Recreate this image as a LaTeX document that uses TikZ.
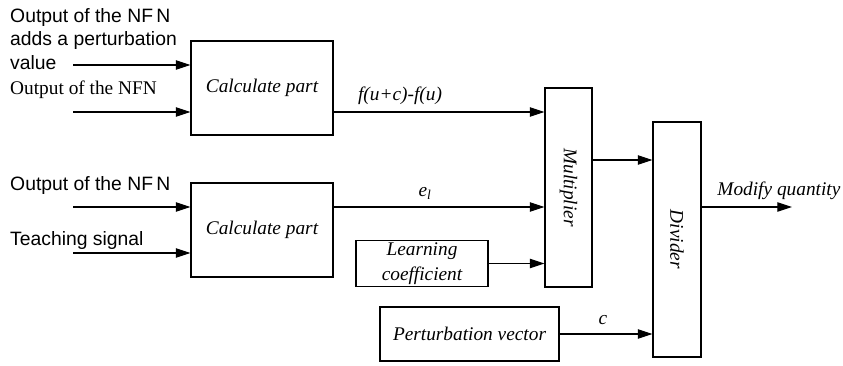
\documentclass[tikz,border=0pt]{standalone}
\usepackage{fontspec}
\setmainfont{Liberation Serif}
\newfontfamily\labelsans{Liberation Sans}
\usetikzlibrary{arrows.meta,positioning}

\begin{document}
\begin{tikzpicture}[x=0.03cm,y=-0.03cm,
  blk/.style={draw,line width=0.9pt,inner sep=2pt,align=center,font=\fontsize{16.5}{21}\selectfont\itshape},
  txt/.style={inner sep=0pt,anchor=west,align=left},
  sig/.style={inner sep=1pt,font=\fontsize{16.5}{19}\selectfont\itshape},
  >={Triangle[length=12.5pt,width=8pt]}]

  \useasboundingbox (0,0) rectangle (843,365);

  % processing blocks
  \node[blk,minimum width=4.26cm,minimum height=2.82cm] (calcA) at (262,88) {Calculate part};
  \node[blk,minimum width=4.26cm,minimum height=2.82cm] (calcB) at (262,230) {Calculate part};
  \node[blk,minimum width=3.96cm,minimum height=1.29cm] (learn) at (422,263.5) {Learning\\coefficient};
  \node[blk,minimum width=5.37cm,minimum height=1.62cm] (pert) at (469.5,334) {Perturbation vector};
  \node[blk,minimum width=1.41cm,minimum height=5.97cm] (mult) at (568.5,187.5) {};
  \node[blk,minimum width=1.44cm,minimum height=7.05cm] (divd) at (677,239.5) {};
  \node[sig,rotate=-90] at (mult) {Multiplier};
  \node[sig,rotate=-90] at (divd) {Divider};

  % input texts
  \node[txt,font=\labelsans\fontsize{16.5}{20.4}\selectfont] (lblA1) at (10,39) {Output of the NF\,N\\adds a perturbation\\value};
  \node[txt,font=\fontsize{16.5}{19}\selectfont] (lblA2) at (10,90) {Output of the NFN};
  \node[txt,font=\labelsans\fontsize{16.5}{19}\selectfont] (lblB1) at (10,185) {Output of the NF\,N};
  \node[txt,font=\labelsans\fontsize{16.5}{19}\selectfont] (lblB2) at (10,240) {Teaching signal};

  \coordinate (inA1) at (73,65);
  \coordinate (inA2) at (73,112);
  \coordinate (inB1) at (73,207);
  \coordinate (inB2) at (73,253);
  \coordinate (mo) at (592,160);
  \coordinate (out) at (792,207);

  \draw[->,line width=0.9pt] (inA1) -- (inA1 -| calcA.west);
  \draw[->,line width=0.9pt] (inA2) -- (inA2 -| calcA.west);
  \draw[->,line width=0.9pt] (inB1) -- (inB1 -| calcB.west);
  \draw[->,line width=0.9pt] (inB2) -- (inB2 -| calcB.west);

  % into the multiplier
  \draw[->,line width=0.9pt] (calcA.east |- inA2) -- (inA2 -| mult.west);
  \node[sig] (dfu) at (400,96) {f(u+c)-f(u)};
  \draw[->,line width=0.9pt] (calcB.east |- inB1) -- (inB1 -| mult.west);
  \node[sig] (el) at (425,193) {e\textsubscript{l}};
  \draw[->,line width=0.9pt] (learn.east) -- (learn.east -| mult.west);

  % divider and result
  \draw[->,line width=0.9pt] (mult.east |- mo) -- (mo -| divd.west);
  \draw[->,line width=0.9pt] (pert.east) -- (pert.east -| divd.west);
  \node[sig] (cl) at (603,320) {c};
  \draw[->,line width=0.9pt] (divd.east |- out) -- (out);
  \node[sig,anchor=south west] (mq) at (716,201) {Modify quantity};

\end{tikzpicture}
\end{document}
